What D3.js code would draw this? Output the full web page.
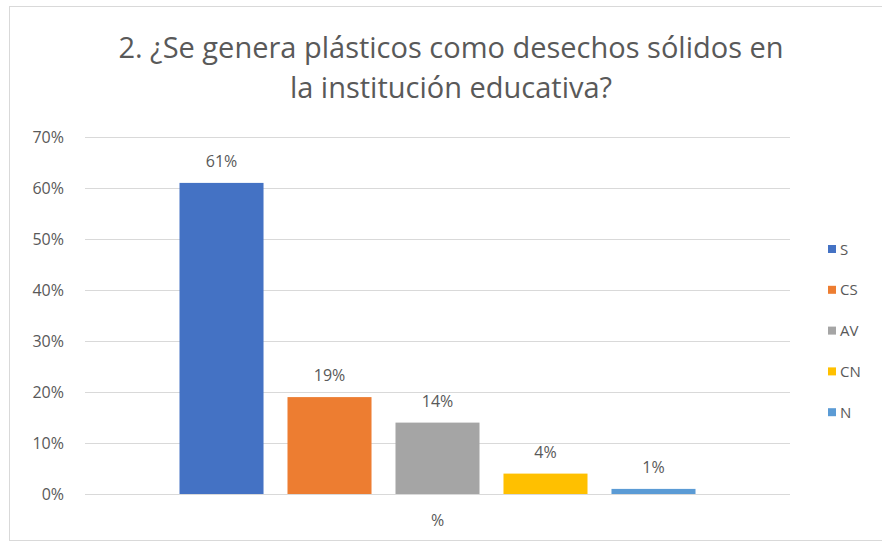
<!DOCTYPE html>
<html><head><meta charset="utf-8">
<script src="https://cdn.jsdelivr.net/npm/d3@7"></script>
<style>body{margin:0;background:#fff;} text{font-family:"Open Sans","Noto Sans",sans-serif;fill:#595959;}</style>
</head><body>
<svg id="c" width="882" height="545"></svg>
<script>
const categories = ["%"];
const seriesNames = ["S","CS","AV","CN","N"];
const seriesValues = [0.61,0.19,0.14,0.04,0.01];
const valueLabels = ["61%","19%","14%","4%","1%"];
const yTicks = [0,0.1,0.2,0.3,0.4,0.5,0.6,0.7];
const colors = ["#4472C4","#ED7D31","#A5A5A5","#FFC000","#5B9BD5"];
const titleLines = ["2. ¿Se genera plásticos como desechos sólidos en","la institución educativa?"];

const svg = d3.select("#c");
svg.append("rect").attr("x",9.5).attr("y",6.5).attr("width",890).attr("height",534)
  .attr("fill","#fff").attr("stroke","#d9d9d9");

const plot = {left:85,right:790,top:137,bottom:494};
const y = d3.scaleLinear().domain([0,0.7]).range([plot.bottom,plot.top]);
const x0 = d3.scaleBand().domain(categories).range([plot.left,plot.right]).paddingOuter(0.1528).paddingInner(0);
const x1 = d3.scaleBand().domain(seriesNames).range([0,x0.bandwidth()]).paddingInner(0.222).paddingOuter(0.111);

// gridlines
svg.append("g").selectAll("line").data(yTicks).join("line")
  .attr("x1",plot.left).attr("x2",plot.right)
  .attr("y1",d=>Math.round(y(d))+0.5).attr("y2",d=>Math.round(y(d))+0.5)
  .attr("stroke","#d9d9d9").attr("stroke-width",1);

const yAxis = d3.axisLeft(y).tickValues(yTicks).tickFormat(d3.format(".0%")).tickSize(0).tickPadding(21);
const ga = svg.append("g").attr("transform",`translate(${plot.left},0)`).call(yAxis);
ga.select(".domain").remove();
ga.selectAll("text").style("font-size","16px").style("fill","#595959").style("font-family","'Open Sans',sans-serif");

const g = svg.append("g").attr("transform",`translate(${x0("%")},0)`);
g.selectAll("rect").data(seriesValues).join("rect")
  .attr("x",(d,i)=>x1(seriesNames[i])).attr("width",x1.bandwidth())
  .attr("y",d=>y(d)).attr("height",d=>y(0)-y(d)).attr("fill",(d,i)=>colors[i]);
g.selectAll("text.v").data(seriesValues).join("text").attr("class","v")
  .attr("x",(d,i)=>x1(seriesNames[i])+x1.bandwidth()/2).attr("y",d=>y(d)-16)
  .attr("text-anchor","middle").style("font-size","16px").text((d,i)=>valueLabels[i]);

// x axis label
svg.append("g").selectAll("text").data(categories).join("text")
  .attr("x",d=>x0(d)+x0.bandwidth()/2).attr("y",526).attr("text-anchor","middle")
  .style("font-size","16px").text(d=>d);

// title
svg.append("g").selectAll("text").data(titleLines).join("text")
  .attr("x",451).attr("y",(d,i)=>58+i*40).attr("text-anchor","middle")
  .style("font-size","29px").text(d=>d);

// legend
const lg = svg.append("g").selectAll("g").data(seriesNames).join("g")
  .attr("transform",(d,i)=>`translate(828,${249+i*40.8})`);
lg.append("rect").attr("x",0).attr("y",-4).attr("width",8).attr("height",8).attr("fill",(d,i)=>colors[i]);
lg.append("text").attr("x",12).attr("y",5.5).style("font-size","15px").text(d=>d);
</script>
</body></html>
